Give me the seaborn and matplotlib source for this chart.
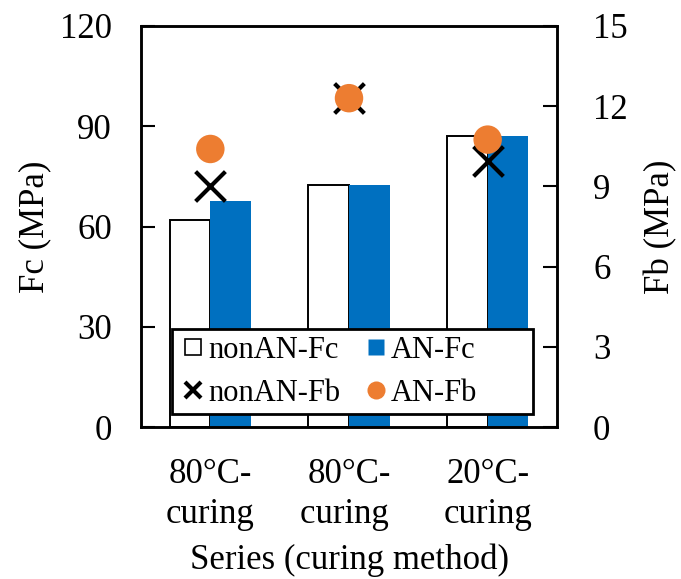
import matplotlib
matplotlib.use("Agg")
import matplotlib.pyplot as plt
import numpy as np
import pandas as pd
import seaborn as sns
from matplotlib.lines import Line2D
from matplotlib.patches import Rectangle

# Curing series (x categories)
series = ["80°C-\ncuring", "80°C-\ncuring ", "20°C-\ncuring"]

# Compressive strength Fc (MPa), left axis
fc_nonan = [62.0, 72.5, 87.0]
fc_an = [67.5, 72.5, 87.0]

# Flexural strength Fb (MPa), right axis
fb_nonan = [9.0, 12.3, 9.95]
fb_an = [10.4, 12.3, 10.75]

left_ticks = [0, 30, 60, 90, 120]
right_ticks = [0, 3, 6, 9, 12, 15]

sns.set_theme(style="white")
plt.rcParams["font.family"] = ["Liberation Serif", "DejaVu Serif"]
for key in ("text.color", "axes.labelcolor", "xtick.color", "ytick.color"):
    plt.rcParams[key] = "black"

BLUE = "#0070C0"
ORANGE = "#ED7D31"

fc_df = pd.DataFrame({
    "series": series * 2,
    "Fc": fc_nonan + fc_an,
    "kind": ["nonAN-Fc"] * 3 + ["AN-Fc"] * 3,
})
fb_df = pd.DataFrame({
    "series": series * 2,
    "Fb": fb_nonan + fb_an,
    "kind": ["nonAN-Fb"] * 3 + ["AN-Fb"] * 3,
})

fig = plt.figure(figsize=(6.81, 5.79), dpi=100)
ax = fig.add_axes([141 / 681, 1 - 427 / 579, (557 - 141) / 681, (427 - 26) / 579])

sns.barplot(data=fc_df, x="series", y="Fc", hue="kind", order=series,
            hue_order=["nonAN-Fc", "AN-Fc"],
            palette={"nonAN-Fc": "white", "AN-Fc": BLUE}, saturation=1,
            width=0.585, gap=0, errorbar=None, legend=False, ax=ax)
for cont, ec in zip(ax.containers, ["black", BLUE]):
    for p in cont:
        p.set_edgecolor(ec)
        p.set_linewidth(1.4 if ec == "black" else 0.0)

ax.set_ylim(0, 120)
ax.set_yticks(left_ticks)
ax.set_xlim(-0.5, 2.5)
ax.set_ylabel("Fc (MPa)", fontsize=25, labelpad=6)
ax.set_xlabel("Series (curing method)", fontsize=25, labelpad=9)
ax.tick_params(axis="y", direction="in", length=10, width=1.5, labelsize=25,
               pad=21, left=True)
ax.tick_params(axis="x", length=0, labelsize=25, pad=22)
for lab in ax.get_xticklabels():
    lab.set_linespacing(1.3)

ax2 = ax.twinx()
sns.scatterplot(data=fb_df[fb_df["kind"] == "nonAN-Fb"], x="series", y="Fb",
                marker="x", s=460, color="black", linewidth=3.0, ax=ax2,
                legend=False, zorder=3)
sns.scatterplot(data=fb_df[fb_df["kind"] == "AN-Fb"], x="series", y="Fb",
                marker="o", s=420, color=ORANGE, edgecolor="none", ax=ax2,
                legend=False, zorder=4)
ax2.set_ylim(0, 15)
ax2.set_yticks(right_ticks)
ax2.set_xlim(-0.5, 2.5)
ax2.set_ylabel("Fb (MPa)", fontsize=25, labelpad=12)
ax2.tick_params(axis="y", direction="in", length=10, width=1.5, labelsize=25,
                pad=26, right=True)

for a in (ax, ax2):
    for s in a.spines.values():
        s.set_color("black")
        s.set_linewidth(1.8)

# Legend box, drawn as its own frame so its size can be set freely
frame = Rectangle(((172 - 141) / 416, (427 - 414) / 401),
                  (533 - 172) / 416, (414 - 329) / 401,
                  transform=ax2.transAxes, facecolor="white",
                  edgecolor="black", linewidth=2.0, zorder=10)
ax2.add_patch(frame)

handles = [
    Line2D([], [], marker="s", linestyle="none", markerfacecolor="white",
           markeredgecolor="black", markeredgewidth=1.2, markersize=11),
    Line2D([], [], marker="x", linestyle="none", color="black",
           markersize=11, markeredgewidth=3),
    Line2D([], [], marker="s", linestyle="none", color=BLUE,
           markeredgecolor="none", markersize=12),
    Line2D([], [], marker="o", linestyle="none", color=ORANGE,
           markeredgecolor="none", markersize=13),
]
labels = ["nonAN-Fc", "nonAN-Fb", "AN-Fc", "AN-Fb"]
leg = ax2.legend(handles, labels, ncol=2, loc="center left",
                 bbox_to_anchor=((184 - 141) / 416, (427 - 372) / 401),
                 fontsize=22, frameon=False, borderpad=0,
                 labelspacing=0.45, handlelength=0.6, handletextpad=0.2,
                 columnspacing=0.85, borderaxespad=0)
leg.set_zorder(11)

fig.savefig("out.png", dpi=100)
